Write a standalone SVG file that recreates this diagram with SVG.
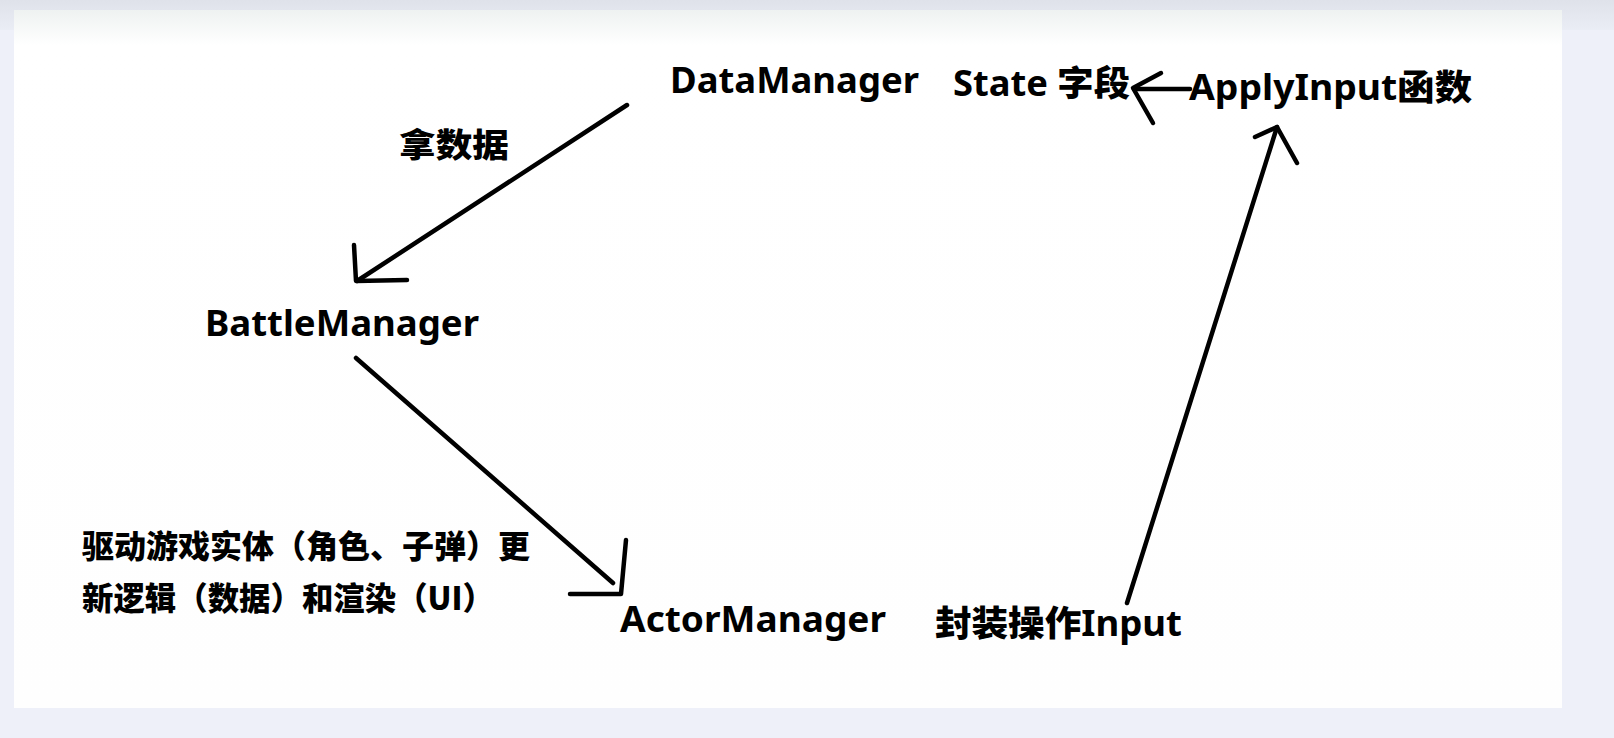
<svg xmlns="http://www.w3.org/2000/svg" width="1614" height="738" viewBox="0 0 1614 738">
  <defs>
    <linearGradient id="topband" x1="0" y1="0" x2="0" y2="1">
      <stop offset="0" stop-color="#dfe2ea"/>
      <stop offset="1" stop-color="#eaedf5"/>
    </linearGradient>
    <linearGradient id="panel" x1="0" y1="0" x2="0" y2="1">
      <stop offset="0" stop-color="#eef2f1"/>
      <stop offset="0.05" stop-color="#ffffff"/>
      <stop offset="1" stop-color="#fefefe"/>
    </linearGradient>
    <style>
      .t { font-family: "Noto Sans", "Noto Sans CJK SC", sans-serif; font-weight: bold; fill: #000; }
      .c { font-family: "Noto Sans CJK SC", sans-serif; font-weight: 900; fill: #000; }
      .s { fill: none; stroke: #000; stroke-width: 4.5; stroke-linecap: round; stroke-linejoin: round; }
    </style>
  </defs>
  <rect x="0" y="0" width="1614" height="738" fill="#eef0f9"/>
  <rect x="0" y="0" width="1614" height="30" fill="url(#topband)"/>
  <rect x="14" y="10" width="1548" height="698" fill="url(#panel)"/>

  <g id="DataManager"><text class="t" x="670" y="93" font-size="35" textLength="249" lengthAdjust="spacingAndGlyphs">DataManager</text></g>
  <g id="State"><text class="t" x="953" y="96" font-size="35" textLength="177" lengthAdjust="spacingAndGlyphs">State <tspan style="font-family:'Noto Sans CJK SC',sans-serif;font-weight:900">字段</tspan></text></g>
  <g id="ApplyInput"><text class="t" x="1189" y="100" font-size="35" textLength="283" lengthAdjust="spacingAndGlyphs">ApplyInput<tspan style="font-family:'Noto Sans CJK SC',sans-serif;font-weight:900">函数</tspan></text></g>
  <g id="label-take"><text class="c" x="399" y="157" font-size="33" textLength="110" lengthAdjust="spacingAndGlyphs">拿数据</text></g>
  <g id="BattleManager"><text class="t" x="205" y="336" font-size="35" textLength="274" lengthAdjust="spacingAndGlyphs">BattleManager</text></g>
  <g id="note">
    <text class="c" x="82" y="558" font-size="32" textLength="448" lengthAdjust="spacingAndGlyphs">驱动游戏实体（角色、子弹）更</text>
    <text class="c" x="82" y="610" font-size="32" textLength="412" lengthAdjust="spacingAndGlyphs">新逻辑（数据）和渲染（UI）</text>
  </g>
  <g id="ActorManager"><text class="t" x="620" y="632" font-size="35" textLength="266" lengthAdjust="spacingAndGlyphs">ActorManager</text></g>
  <g id="Input"><text class="t" x="935" y="636" font-size="35" textLength="247" lengthAdjust="spacingAndGlyphs"><tspan style="font-family:'Noto Sans CJK SC',sans-serif;font-weight:900">封装操作</tspan>Input</text></g>

  <g id="connectors">
    <path class="s" d="M627 105 L357 281"/>
    <path class="s" d="M354 245 L356 281 L407 280"/>
    <path class="s" d="M356 358 L613 583"/>
    <path class="s" d="M626 540 L621 594 L570 594"/>
    <path class="s" d="M1127 603 L1277 127"/>
    <path class="s" d="M1255 137 L1277 127 L1297 163"/>
    <path class="s" d="M1190 89 L1134 89"/>
    <path class="s" d="M1161 73 L1133 88 L1153 123"/>
  </g>
</svg>
